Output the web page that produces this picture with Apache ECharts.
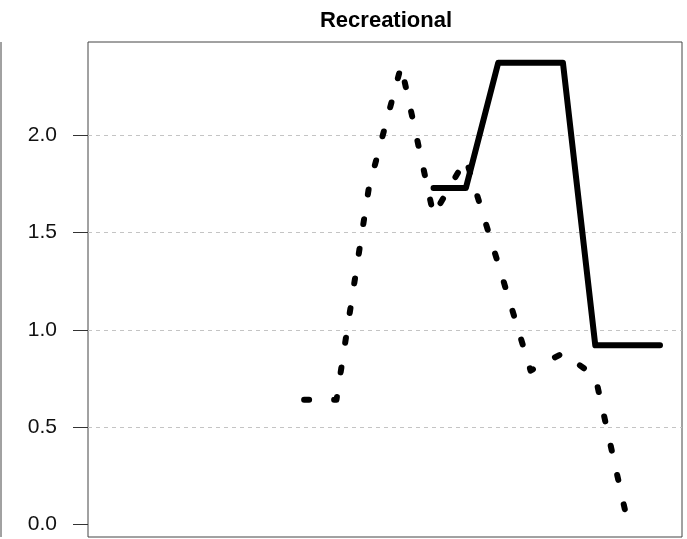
<!DOCTYPE html>
<html>
<head>
<meta charset="utf-8">
<script src="https://cdn.jsdelivr.net/npm/echarts@6/dist/echarts.min.js"></script>
<style>
  html, body { margin: 0; padding: 0; background: #fff; }
  #main { width: 687px; height: 539px; }
</style>
</head>
<body>
<div id="main"></div>
<script>
// time index of each point (the panel shares an x range of 1..18)
var timeIndex = [7, 8, 9, 10, 11, 12, 13, 14, 15, 16, 17, 18];
// solid line, starts later
var solidValues = [null, null, null, null, 1.73, 1.73, 2.375, 2.375, 2.375, 0.92, 0.92, 0.92];
// dotted line
var dottedValues = [0.64, 0.64, 1.73, 2.36, 1.59, 1.88, 1.34, 0.79, 0.88, 0.76, 0.01, null];
var yTicks = [0, 0.5, 1, 1.5, 2];
var gridTicks = [0.5, 1, 1.5, 2];

function pairs(vals) {
  var out = [];
  for (var i = 0; i < vals.length; i++) {
    if (vals[i] !== null) out.push([timeIndex[i], vals[i]]);
  }
  return out;
}

var chart = echarts.init(document.getElementById('main'), null, { renderer: 'canvas' });

var option = {
  animation: false,
  backgroundColor: '#fff',
  title: {
    text: 'Recreational',
    left: 381,
    top: 5,
    textAlign: 'center',
    textStyle: {
      fontFamily: 'Liberation Sans',
      fontWeight: 'bold',
      fontSize: 22,
      color: '#000'
    }
  },
  grid: {
    left: 88,
    top: 42,
    right: 5,
    bottom: 2,
    show: true,
    borderColor: '#444',
    borderWidth: 1
  },
  xAxis: {
    type: 'value',
    min: 0.32,
    max: 18.68,
    show: false
  },
  yAxis: [{
    type: 'value',
    min: -0.067,
    max: 2.482,
    position: 'left',
    axisLine: { show: false },
    axisTick: {
      show: true,
      length: 15,
      customValues: yTicks,
      lineStyle: { color: '#333', width: 1 }
    },
    axisLabel: {
      customValues: yTicks,
      margin: 31,
      fontFamily: 'Liberation Sans',
      fontSize: 21,
      color: '#111',
      formatter: function (v) { return v.toFixed(1); }
    },
    splitLine: { show: false }
  }, {
    // only here for the light dotted reference lines
    type: 'value',
    min: -0.067,
    max: 2.482,
    position: 'left',
    axisLine: { show: false },
    axisLabel: { show: false },
    axisTick: { show: false, customValues: gridTicks },
    splitLine: {
      show: true,
      lineStyle: { color: '#c4c4c4', type: [4, 4], width: 1 }
    }
  }],
  graphic: [{
    // right edge of the neighbouring panel
    type: 'line',
    shape: { x1: 1, y1: 42, x2: 1, y2: 537 },
    style: { stroke: '#444', lineWidth: 1 }
  }],
  series: [{
    name: 'solid',
    type: 'line',
    data: pairs(solidValues),
    symbol: 'none',
    lineStyle: { color: '#000', width: 6, cap: 'round', join: 'round' }
  }, {
    name: 'dotted',
    type: 'line',
    data: pairs(dottedValues),
    symbol: 'none',
    lineStyle: { color: '#000', width: 6, type: [5, 25], cap: 'round', join: 'round' }
  }]
};

chart.setOption(option);
</script>
</body>
</html>
